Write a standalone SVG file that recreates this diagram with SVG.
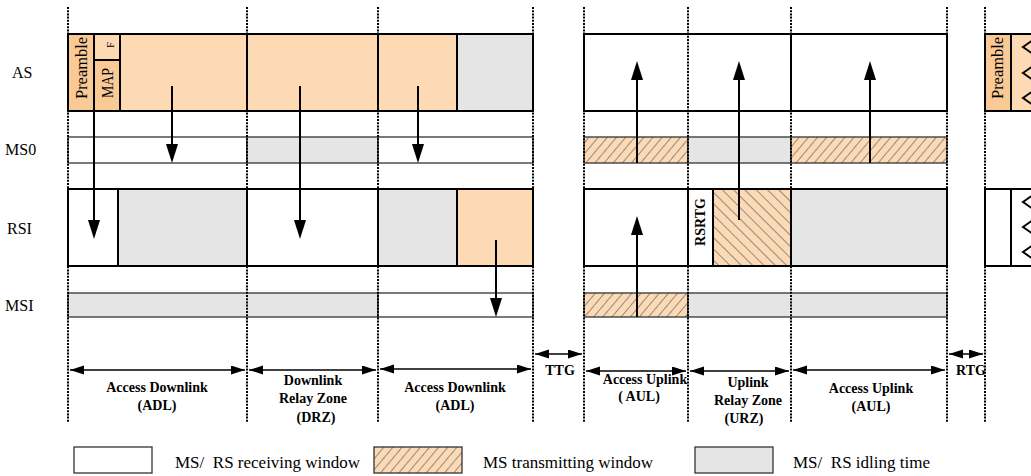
<svg xmlns="http://www.w3.org/2000/svg" width="1031" height="476" viewBox="0 0 1031 476">
<style>
.dot{stroke:#000;stroke-width:2;stroke-dasharray:2 1.2;fill:none}
.bx{stroke:#000;stroke-width:2}
.th{stroke:#333;stroke-width:1.3}
.org{fill:#FDDAB3}
.pre{fill:#F9C996}
.gry{fill:#E5E5E5}
.wht{fill:#fff}
.h1{fill:url(#hatchA)}
.h2{fill:url(#hatchB)}
.lbl{font-family:"Liberation Serif","Times New Roman",serif;font-size:16px;fill:#000}
.rot{font-family:"Liberation Serif","Times New Roman",serif;font-size:17px;text-anchor:middle;fill:#000}
.bl{font-family:"Liberation Serif","Times New Roman",serif;font-weight:bold;font-size:14px;text-anchor:middle;fill:#000}
.leg{font-family:"Liberation Serif","Times New Roman",serif;font-size:17px;fill:#000}
.arr{stroke:#000;stroke-width:2;fill:none;marker-end:url(#head)}
.dbl{stroke:#000;stroke-width:1.3;fill:none;marker-start:url(#sh);marker-end:url(#sh)}
.chev{stroke:#000;stroke-width:2;fill:none}
</style>
<defs>
<pattern id="hatchA" patternUnits="userSpaceOnUse" width="7" height="7" patternTransform="rotate(40)">
<rect width="7" height="7" fill="#FDDAB3"/>
<line x1="0" y1="0" x2="0" y2="7" stroke="#8c8c8c" stroke-width="2"/>
</pattern>
<pattern id="hatchB" patternUnits="userSpaceOnUse" width="8" height="8" patternTransform="rotate(-45)">
<rect width="8" height="8" fill="#FDDAB3"/>
<line x1="0" y1="0" x2="0" y2="8" stroke="#8c8c8c" stroke-width="2"/>
</pattern>
<marker id="head" markerUnits="userSpaceOnUse" markerWidth="20" markerHeight="14" refX="14" refY="6" orient="auto">
<path d="M0,0 L19,6 L0,12 Z" fill="#000"/>
</marker>
<marker id="sh" markerUnits="userSpaceOnUse" markerWidth="16" markerHeight="10" refX="14" refY="4.5" orient="auto-start-reverse">
<path d="M0,0 L14,4.5 L0,9 Z" fill="#000"/>
</marker>
</defs>

<g id="row-labels">
<text class="lbl" x="12" y="78">AS</text>
<text class="lbl" x="5" y="155">MS0</text>
<text class="lbl" x="7" y="234">RSI</text>
<text class="lbl" x="5" y="311">MSI</text>
</g>

<g id="AS">
<rect class="bx pre" x="68" y="34" width="26" height="77"/>
<rect class="bx org" x="94" y="34" width="26" height="26"/>
<rect class="bx pre" x="94" y="60" width="26" height="51"/>
<rect class="bx org" x="120" y="34" width="127" height="77"/>
<rect class="bx org" x="247" y="34" width="131" height="77"/>
<rect class="bx org" x="378" y="34" width="79" height="77"/>
<rect class="bx gry" x="457" y="34" width="76" height="77"/>
<rect class="bx wht" x="584" y="34" width="363" height="77"/>
<line class="bx" x1="791" y1="34" x2="791" y2="111"/>
<rect class="bx pre" x="985" y="34" width="26" height="77"/>
<rect class="bx org" x="1011" y="34" width="30" height="77"/>
<polyline class="chev" points="1033,40 1023,47 1033,54"/>
<polyline class="chev" points="1033,66 1023,73 1033,80"/>
<polyline class="chev" points="1033,91 1023,98 1033,105"/>
<text class="rot" transform="translate(87,68) rotate(-90)" textLength="62" lengthAdjust="spacingAndGlyphs">Preamble</text>
<text class="rot" transform="translate(113,83) rotate(-90)" textLength="30" lengthAdjust="spacingAndGlyphs">MAP</text>
<text class="rot" style="font-size:10px" transform="translate(114,45) rotate(-90)">F</text>
<text class="rot" transform="translate(1003,68) rotate(-90)" textLength="62" lengthAdjust="spacingAndGlyphs">Preamble</text>
</g>

<g id="MS0">
<rect class="th wht" x="68" y="137" width="179" height="26"/>
<rect class="th gry" x="247" y="137" width="131" height="26"/>
<rect class="th wht" x="378" y="137" width="155" height="26"/>
<rect class="th h1" x="584" y="137" width="104" height="26"/>
<rect class="th gry" x="688" y="137" width="103" height="26"/>
<rect class="th h1" x="791" y="137" width="156" height="26"/>
</g>

<g id="RS1">
<rect class="bx wht" x="68" y="189" width="50" height="77"/>
<rect class="bx gry" x="118" y="189" width="129" height="77"/>
<rect class="bx wht" x="247" y="189" width="131" height="77"/>
<rect class="bx gry" x="378" y="189" width="79" height="77"/>
<rect class="bx org" x="457" y="189" width="76" height="77"/>
<rect class="bx wht" x="584" y="189" width="104" height="77"/>
<rect class="bx wht" x="688" y="189" width="25" height="77"/>
<rect class="bx h2" x="713" y="189" width="78" height="77"/>
<rect class="bx gry" x="791" y="189" width="156" height="77"/>
<rect class="bx wht" x="985" y="189" width="26" height="77"/>
<rect class="bx wht" x="1011" y="189" width="30" height="77"/>
<polyline class="chev" points="1033,195 1023,202 1033,209"/>
<polyline class="chev" points="1033,220 1023,227 1033,234"/>
<polyline class="chev" points="1033,245 1023,252 1033,259"/>
<text class="bl" transform="translate(705,222) rotate(-90)">RSRTG</text>
</g>

<g id="MS1">
<rect class="th gry" x="68" y="293" width="310" height="24"/>
<rect class="th wht" x="378" y="293" width="155" height="24"/>
<rect class="th h1" x="584" y="293" width="104" height="24"/>
<rect class="th gry" x="688" y="293" width="259" height="24"/>
</g>

<g id="grid">
<line class="dot" x1="68" y1="7" x2="68" y2="422"/>
<line class="dot" x1="247" y1="7" x2="247" y2="422"/>
<line class="dot" x1="378" y1="7" x2="378" y2="422"/>
<line class="dot" x1="533" y1="7" x2="533" y2="422"/>
<line class="dot" x1="584" y1="7" x2="584" y2="422"/>
<line class="dot" x1="688" y1="7" x2="688" y2="422"/>
<line class="dot" x1="791" y1="7" x2="791" y2="422"/>
<line class="dot" x1="947" y1="7" x2="947" y2="422"/>
<line class="dot" x1="985" y1="7" x2="985" y2="422"/>
</g>

<g id="connectors">
<line class="arr" x1="94" y1="111" x2="94" y2="234"/>
<line class="arr" x1="172" y1="86" x2="172" y2="158"/>
<line class="arr" x1="300" y1="86" x2="300" y2="234"/>
<line class="arr" x1="418" y1="86" x2="418" y2="158"/>
<line class="arr" x1="496" y1="240" x2="496" y2="312"/>
<line class="arr" x1="637" y1="163" x2="637" y2="66"/>
<line class="arr" x1="739" y1="220" x2="739" y2="66"/>
<line class="arr" x1="870" y1="163" x2="870" y2="66"/>
<line class="arr" x1="637" y1="317" x2="637" y2="221"/>
<line class="dbl" x1="70" y1="370" x2="245" y2="370"/>
<line class="dbl" x1="249" y1="370" x2="376" y2="370"/>
<line class="dbl" x1="380" y1="369" x2="531" y2="369"/>
<line class="dbl" x1="535" y1="354" x2="582" y2="354"/>
<line class="dbl" x1="586" y1="371" x2="686" y2="371"/>
<line class="dbl" x1="690" y1="371" x2="789" y2="371"/>
<line class="dbl" x1="793" y1="370" x2="945" y2="370"/>
<line class="dbl" x1="949" y1="354" x2="983" y2="354"/>
</g>

<g id="zone-labels">
<text class="bl" x="157" y="392">Access Downlink</text>
<text class="bl" x="157" y="410">(ADL)</text>
<text class="bl" x="313" y="385">Downlink</text>
<text class="bl" x="313" y="403">Relay Zone</text>
<text class="bl" x="316" y="422">(DRZ)</text>
<text class="bl" x="455" y="392">Access Downlink</text>
<text class="bl" x="455" y="410">(ADL)</text>
<text class="bl" x="560" y="375">TTG</text>
<text class="bl" x="645" y="384">Access Uplink</text>
<text class="bl" x="639" y="401">( AUL)</text>
<text class="bl" x="748" y="387">Uplink</text>
<text class="bl" x="748" y="405">Relay Zone</text>
<text class="bl" x="744" y="423">(URZ)</text>
<text class="bl" x="871" y="393">Access Uplink</text>
<text class="bl" x="871" y="411">(AUL)</text>
<text class="bl" x="971" y="375">RTG</text>
</g>

<g id="legend">
<rect class="th wht" x="74" y="447" width="78" height="26"/>
<text class="leg" x="175" y="468">MS/&#160; RS receiving window</text>
<rect class="th h1" x="374" y="447" width="88" height="26"/>
<text class="leg" x="483" y="468">MS transmitting window</text>
<rect class="th gry" x="695" y="447" width="78" height="26"/>
<text class="leg" x="793" y="468">MS/&#160; RS idling time</text>
</g>
</svg>
